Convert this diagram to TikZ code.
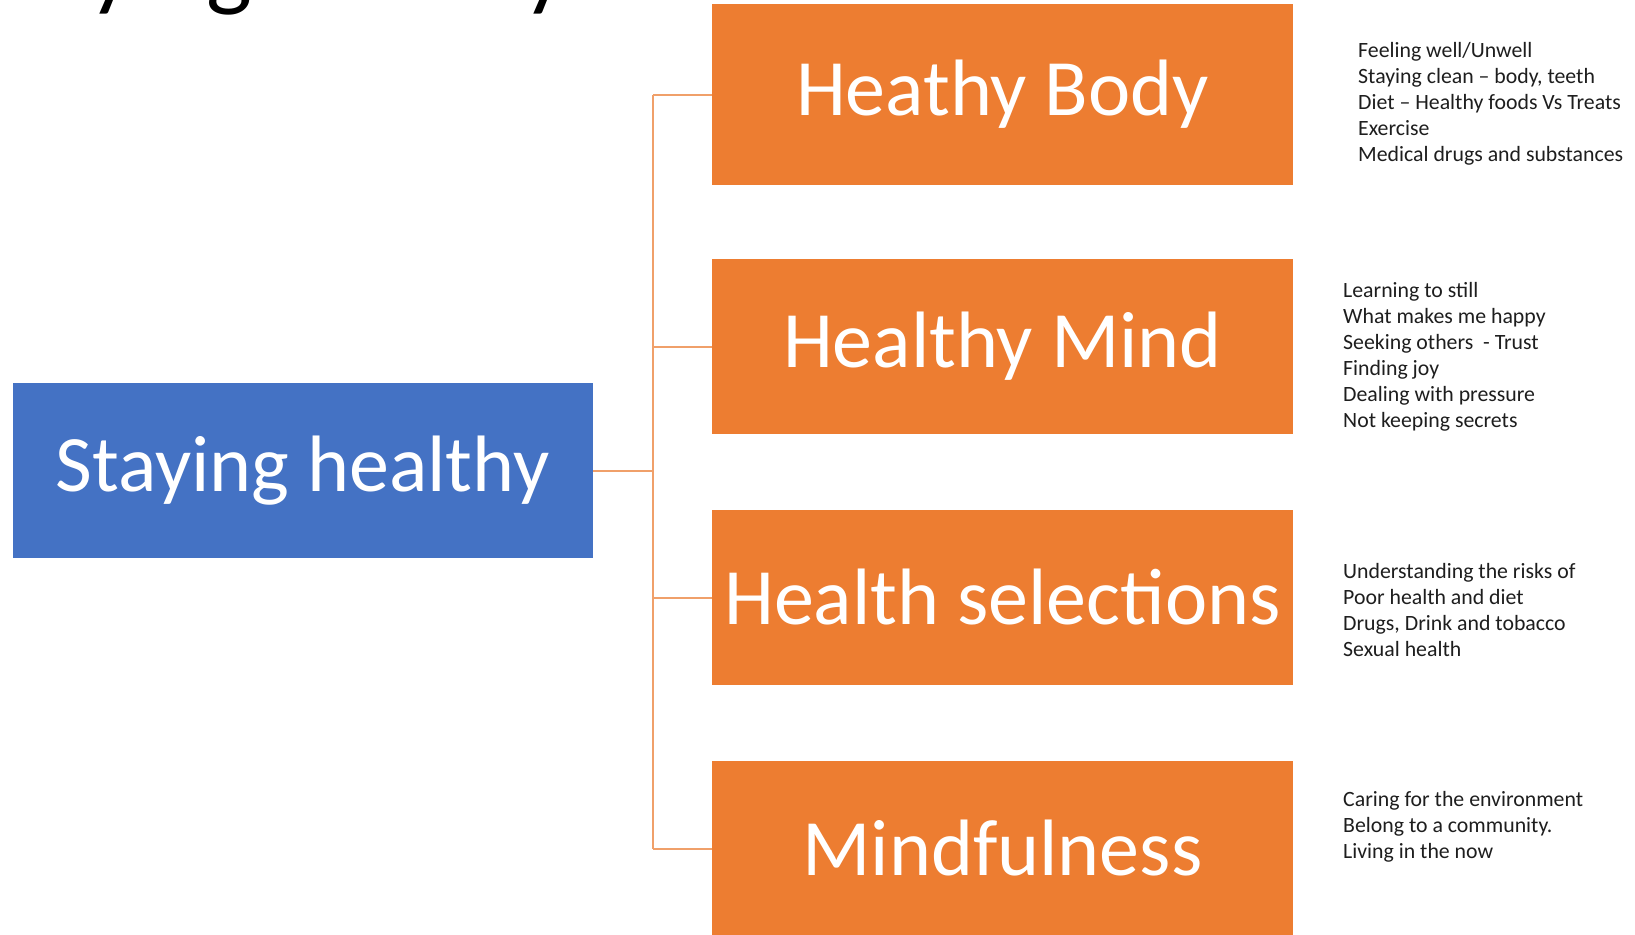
\documentclass[tikz,border=0pt]{standalone}
\usepackage{fontspec}
\setmainfont{Carlito}
\definecolor{branchfill}{HTML}{ED7D31}
\definecolor{rootfill}{HTML}{4472C4}
\definecolor{linkcol}{HTML}{F0A06A}
\definecolor{notecol}{HTML}{1E1E1E}
\begin{document}
\begin{tikzpicture}[x=1pt,y=-1pt,
  branch/.style={fill=branchfill, text=white, minimum width=581pt, minimum height=175pt,
    inner sep=0pt, font=\fontsize{80}{96}\selectfont},
  rootbox/.style={fill=rootfill, text=white, minimum width=580.5pt, minimum height=175pt,
    inner sep=0pt, font=\fontsize{80}{96}\selectfont},
  % notes are placed by the baseline of their last line
  notes/.style={anchor=base west, align=left, inner sep=0pt, text=notecol,
    font=\fontsize{21.8}{26}\selectfont},
  link/.style={draw=linkcol, line width=2pt}]
\useasboundingbox (0,0) rectangle (1635,934);
\fill[white] (0,0) rectangle (1635,934);

% heading, mostly above the top edge
\node[anchor=base west, inner sep=0pt, font=\fontsize{97}{97}\selectfont] (title) at (-31,-1) {Staying healthy};

% root and branches
\node[rootbox] (root) at (302.75,470.5) {Staying healthy};
\node[branch, minimum height=181pt] (body) at (1002.5,94.5) {Heathy Body};
\node[branch] (mind) at (1002.5,346.5) {Healthy Mind};
\node[branch] (sel)  at (1002.5,597.5) {Health selections};
\node[branch] (mfl)  at (1002.5,848.5) {Mindfulness};

% connector tree
\coordinate (trunk) at (653,470.5);
\draw[link] (root.east) -- (trunk);
\draw[link] (trunk |- body.west) -- (trunk |- mfl.west);
\foreach \b in {body,mind,sel,mfl}
  \draw[link] (trunk |- \b.west) -- (\b.west);

% notes beside each branch
\node[notes] (bodynotes) at (1358,161) {Feeling well/Unwell\\Staying clean -- body, teeth\\Diet -- Healthy foods Vs Treats\\Exercise\\Medical drugs and substances};
\node[notes] (mindnotes) at (1343,427) {Learning to still\\What makes me happy\\Seeking others\ \ - Trust\\Finding joy\\Dealing with pressure\\Not keeping secrets};
\node[notes] (selnotes) at (1343,656) {Understanding the risks of\\Poor health and diet\\Drugs, Drink and tobacco\\Sexual health};
\node[notes] (mflnotes) at (1343,858) {Caring for the environment\\Belong to a community.\\Living in the now};
\end{tikzpicture}
\end{document}
